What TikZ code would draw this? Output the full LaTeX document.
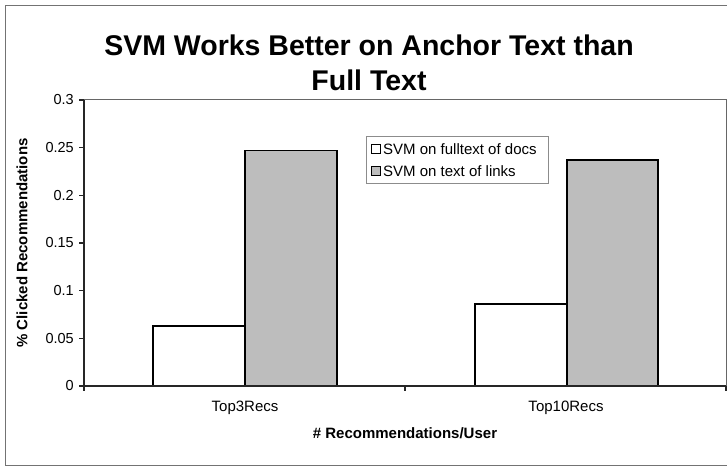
\documentclass[tikz,border=0pt]{standalone}
\usepackage{fontspec}
\setmainfont{Liberation Sans}
\begin{document}
\begin{tikzpicture}[x=1bp,y=-1bp,
  frameline/.style={draw=black!55,line width=0.8bp},
  plotborder/.style={draw=black!60,line width=1bp},
  axisline/.style={draw=black!85,line width=1.2bp},
  bar/.style={draw=black,line width=1.4bp},
  whitebar/.style={bar,fill=white},
  graybar/.style={bar,fill=black!26},
  ticklabel/.style={anchor=east,inner sep=0pt,font=\fontsize{14.5bp}{17bp}\selectfont},
  catlabel/.style={inner sep=0pt,font=\fontsize{15bp}{18bp}\selectfont},
  axistitle/.style={inner sep=0pt,font=\fontsize{15bp}{18bp}\selectfont\bfseries},
  legendtext/.style={anchor=west,inner sep=0pt,font=\fontsize{15bp}{18bp}\selectfont},
  legendmark/.style={draw=black,line width=1bp,minimum size=9bp,inner sep=0pt}]
\useasboundingbox (0,0) rectangle (727,468);
\clip (0,0) rectangle (727,468);
% chart frame
\draw[frameline] (5,5) rectangle (780,465);
% title
\node[font=\fontsize{28.5bp}{35bp}\selectfont\bfseries,align=center,inner sep=0pt]
  (title) at (369,63) {SVM Works Better on Anchor Text than\\Full Text};
% plot area border and axes
\draw[plotborder] (84,100) -- (726,100) -- (726,386);
\draw[axisline] (84,100) -- (84,386) -- (726,386);
% value axis ticks and labels
\foreach \v/\lab in {0/0,1/0.05,2/0.1,3/0.15,4/0.2,5/0.25,6/0.3}{
  \draw[axisline] (79,{386-\v*47.667}) -- (84,{386-\v*47.667});
  \node[ticklabel] (ylab\v) at (74,{386-\v*47.667}) {\lab};
}
% category axis ticks
\foreach \x in {84,405,726}{
  \draw[axisline] (\x,386) -- (\x,391);
}
% bars
\draw[whitebar] (153,386) rectangle (245,{386-0.063*953.33});
\draw[graybar]  (245,386) rectangle (337,{386-0.247*953.33});
\draw[whitebar] (475,386) rectangle (567,{386-0.086*953.33});
\draw[graybar]  (567,386) rectangle (658,{386-0.237*953.33});
\draw[axisline] (84,386) -- (726,386);
% category labels and axis titles
\node[catlabel] (cat1) at (245,408) {Top3Recs};
\node[catlabel] (cat2) at (566,408) {Top10Recs};
\node[axistitle] (xtitle) at (405,433) {\# Recommendations/User};
\node[axistitle,rotate=90] (ytitle) at (22,243) {\% Clicked Recommendations};
% legend
\draw[draw=black!45,line width=0.8bp,fill=white] (366,136) rectangle (548,183);
\node[legendmark,fill=white] (lm1) at (376,149) {};
\node[legendtext] (lt1) at (383,149) {SVM on fulltext of docs};
\node[legendmark,fill=black!26] (lm2) at (376,171) {};
\node[legendtext] (lt2) at (383,171) {SVM on text of links};
\end{tikzpicture}
\end{document}
